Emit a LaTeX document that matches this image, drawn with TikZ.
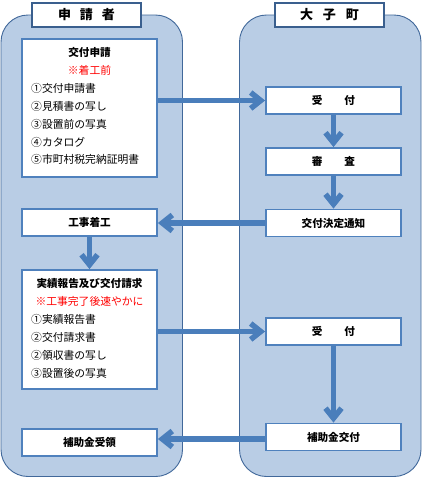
\documentclass[tikz,border=0pt]{standalone}
\usepackage{fontspec}
\setmainfont{Noto Sans CJK JP}
\usetikzlibrary{arrows.meta}
\definecolor{panelfill}{HTML}{B9CDE5}
\definecolor{paneldraw}{HTML}{41689A}
\definecolor{headdraw}{HTML}{3A5F8E}
\definecolor{boxdraw}{HTML}{4F81BD}
\definecolor{arrowcol}{HTML}{4A7EBB}
\tikzset{
  panel/.style={fill=panelfill,draw=paneldraw,line width=0.9pt,rounded corners=27pt},
  headbox/.style={draw=headdraw,fill=white,line width=2pt,minimum width=109pt,minimum height=24pt,inner sep=0pt,font=\fontsize{13}{15}\selectfont\bfseries},
  stepbox/.style={draw=boxdraw,fill=white,line width=1.8pt,minimum width=135pt,minimum height=27pt,inner sep=0pt,font=\fontsize{10.6}{12}\selectfont\bfseries},
  bigbox/.style={draw=boxdraw,fill=white,line width=1.8pt,minimum width=135pt,inner sep=0pt},
  ttl/.style={font=\fontsize{10.6}{12}\selectfont\bfseries,inner sep=0pt},
  redl/.style={font=\fontsize{10.8}{12}\selectfont,text=red,inner sep=0pt},
  item/.style={font=\fontsize{10.8}{12}\selectfont,anchor=west,inner sep=0pt},
  arr/.style={draw=arrowcol,line width=5.5pt,-{Straight Barb[length=10pt,width=16pt]}}
}
\begin{document}
\begin{tikzpicture}[x=1pt,y=-1pt]
\useasboundingbox (0,0) rectangle (424,477);
% panels
\path[panel] (1,15) rectangle (182.5,476.5);
\path[panel] (239.5,15) rectangle (421,476.5);
% headers
\node[headbox] (hL) at (86.5,15) {申\hspace{9pt}請\hspace{9pt}者};
\node[headbox] (hR) at (329.5,15) {大\hspace{10pt}子\hspace{10pt}町};
% left column
\node[bigbox,minimum height=138pt] (box1) at (89.5,108) {};
\node[ttl] (t1) at (89.5,52) {交付申請};
\node[redl] (r1) at (89.5,70) {※着工前};
\node[item] (i11) at (31,88) {①交付申請書};
\node[item] (i12) at (31,106) {②見積書の写し};
\node[item] (i13) at (31,124) {③設置前の写真};
\node[item] (i14) at (31,142) {④カタログ};
\node[item] (i15) at (31,159.5) {⑤市町村税完納証明書};
\node[stepbox] (chaku) at (89.5,222.5) {工事着工};
\node[bigbox,minimum height=119pt] (box2) at (89.5,329.5) {};
\node[ttl] (t2) at (89.5,283) {実績報告及び交付請求};
\node[redl] (r2) at (89.5,301) {※工事完了後速やかに};
\node[item] (i21) at (31,319) {①実績報告書};
\node[item] (i22) at (31,337) {②交付請求書};
\node[item] (i23) at (31,355) {②領収書の写し};
\node[item] (i24) at (31,373) {③設置後の写真};
\node[stepbox] (juryo) at (89.5,442.5) {補助金受領};
% right column
\node[stepbox] (uke1) at (333.5,100.5) {受\hspace{22pt}付};
\node[stepbox] (shinsa) at (333.5,161.5) {審\hspace{22pt}査};
\node[stepbox] (kettei) at (333.5,223) {交付決定通知};
\node[stepbox] (uke2) at (333.5,331.5) {受\hspace{22pt}付};
\node[stepbox] (kofu) at (333.5,437) {補助金交付};
% arrows
\draw[arr] (uke1.west -| box1.east) -- (uke1.west);
\draw[arr] (uke1.south) -- (shinsa.north);
\draw[arr] (shinsa.south) -- (kettei.north);
\draw[arr] (kettei.west) -- (kettei.west -| chaku.east);
\draw[arr] (chaku.south) -- (box2.north);
\draw[arr] (uke2.west -| box2.east) -- (uke2.west);
\draw[arr] (uke2.south) -- (kofu.north);
\draw[arr] ([yshift=-2pt]kofu.west) -- ([yshift=-2pt]kofu.west -| juryo.east);
\end{tikzpicture}
\end{document}
